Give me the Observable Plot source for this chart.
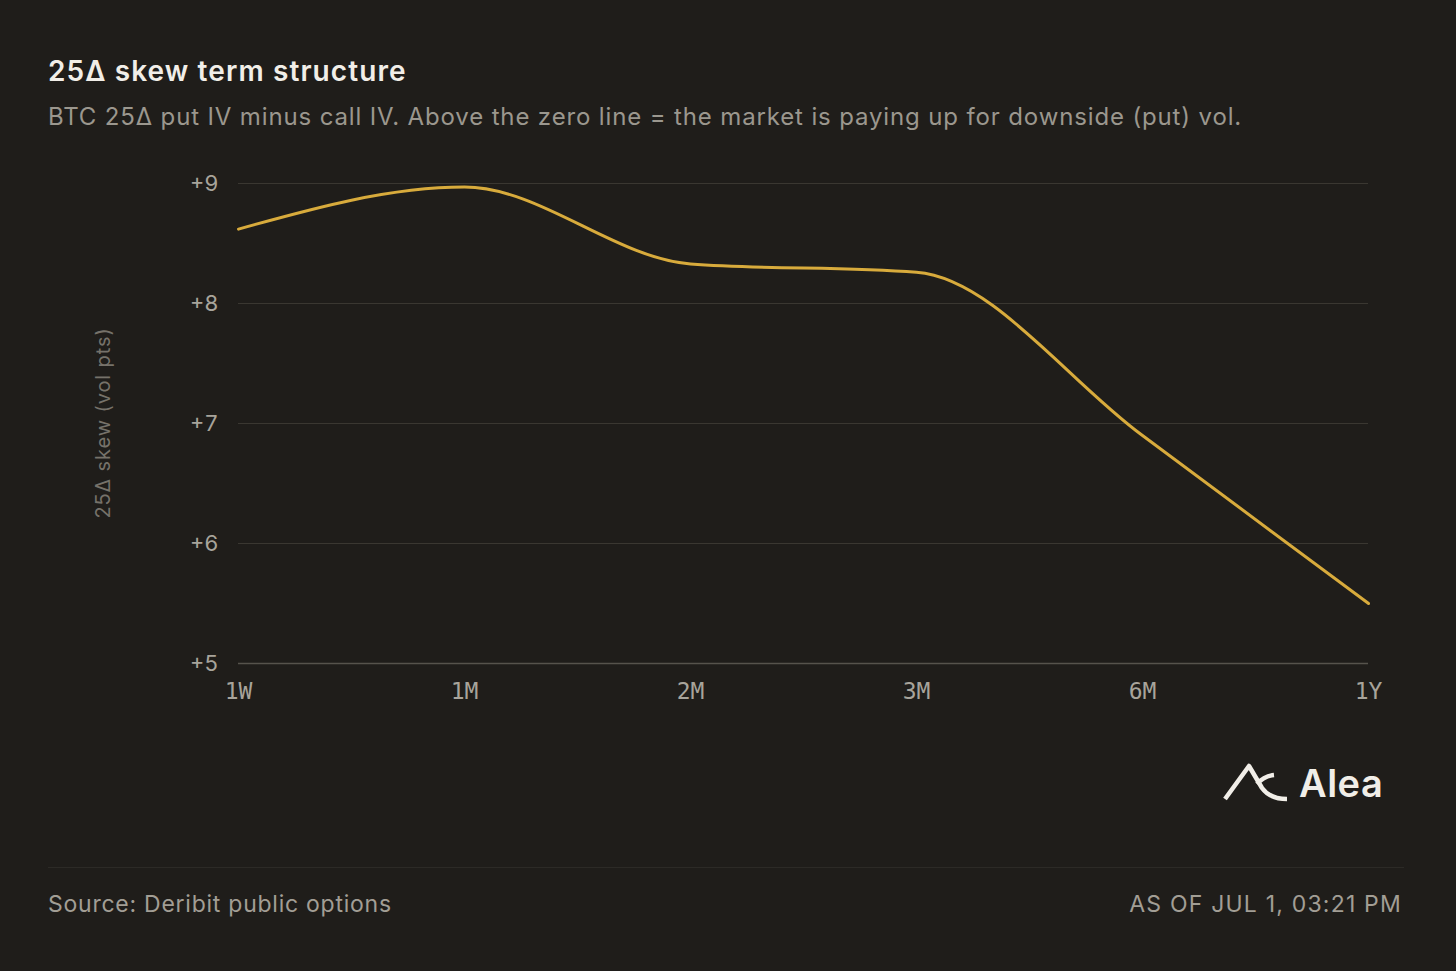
<!DOCTYPE html>
<html>
<head>
<meta charset="utf-8">
<script src="https://cdn.jsdelivr.net/npm/d3@7"></script>
<script src="https://cdn.jsdelivr.net/npm/@observablehq/plot@0.6"></script>
<style>
  html, body { margin: 0; padding: 0; background: #1f1d1a; }
  body { width: 1456px; height: 971px; position: relative; overflow: hidden; font-family: Inter, "Noto Sans", sans-serif; }
  .abs { position: absolute; white-space: nowrap; }
  #title { left: 48px; top: 54px; font-size: 28px; font-weight: 600; color: #f1eee8; letter-spacing: 1.1px; }
  #subtitle { left: 48px; top: 102px; font-size: 24px; color: #9b978e; letter-spacing: 0.86px; }
  #chart { position: absolute; left: 0; top: 150px; }
  #ylabel { left: 103px; top: 423px; font-size: 20px; color: #76726a; letter-spacing: 0.9px; transform: translate(-50%, -50%) rotate(-90deg); }
  #divider { left: 48px; top: 867px; width: 1356px; height: 1px; background: #2c2a26; }
  #source { left: 48px; top: 890px; font-size: 23px; color: #a29e95; letter-spacing: 0.75px; }
  #asof { right: 54px; top: 890px; font-size: 23px; color: #a29e95; letter-spacing: 1.2px; }
  #logo { left: 1215px; top: 755px; }
  #logotext { left: 1299px; top: 760px; font-size: 38px; font-weight: 600; color: #f1eee8; letter-spacing: 0.5px; }
</style>
</head>
<body>
<div id="title" class="abs">25Δ skew term structure</div>
<div id="subtitle" class="abs">BTC 25Δ put IV minus call IV. Above the zero line = the market is paying up for downside (put) vol.</div>
<div id="chart"></div>
<div id="ylabel" class="abs">25Δ skew (vol pts)</div>
<svg id="logo" class="abs" width="80" height="55" viewBox="0 0 80 55">
  <path d="M10 44 L34 11 L47 33 Q55 44 72 44" fill="none" stroke="#f1eee8" stroke-width="4.5" stroke-linejoin="round" stroke-linecap="butt"/>
  <path d="M42 29 Q49 21 59 20" fill="none" stroke="#f1eee8" stroke-width="4.5" stroke-linecap="butt"/>
</svg>
<div id="logotext" class="abs">Alea</div>
<div id="divider" class="abs"></div>
<div id="source" class="abs">Source: Deribit public options</div>
<div id="asof" class="abs">AS OF JUL 1, 03:21 PM</div>
<script>
const tenors = ["1W", "1M", "2M", "3M", "6M", "1Y"];
const skew = [8.62, 8.97, 8.33, 8.26, 6.90, 5.50];
const yTicks = [5, 6, 7, 8, 9];

const data = tenors.map((t, i) => ({tenor: t, skew: skew[i]}));

const chart = Plot.plot({
  width: 1456,
  height: 580,
  marginLeft: 238,
  marginRight: 88,
  marginTop: 33,
  marginBottom: 67,
  style: {background: "transparent", color: "#a8a49b", fontFamily: "Inter, 'Noto Sans', sans-serif"},
  x: {type: "point", domain: tenors, padding: 0},
  y: {domain: [5, 9], ticks: yTicks},
  marks: [
    Plot.gridY(yTicks.filter(d => d !== 5), {stroke: "#3a3731", strokeOpacity: 1, strokeWidth: 1}),
    Plot.ruleY([5], {stroke: "#56534c", strokeWidth: 1.5}),
    Plot.axisY({ticks: yTicks, tickSize: 0, tickPadding: 20, fontSize: 22, tickFormat: d => "+" + d, label: null, fill: "#a8a49b"}),
    Plot.axisX({tickSize: 0, tickPadding: 19, fontSize: 23, fontFamily: "'DejaVu Sans Mono', monospace", label: null, fill: "#a8a49b"}),
    Plot.line(data, {x: "tenor", y: "skew", curve: "monotone-x", stroke: "#d8ab3c", strokeWidth: 3})
  ]
});
document.getElementById("chart").appendChild(chart);
</script>
</body>
</html>
